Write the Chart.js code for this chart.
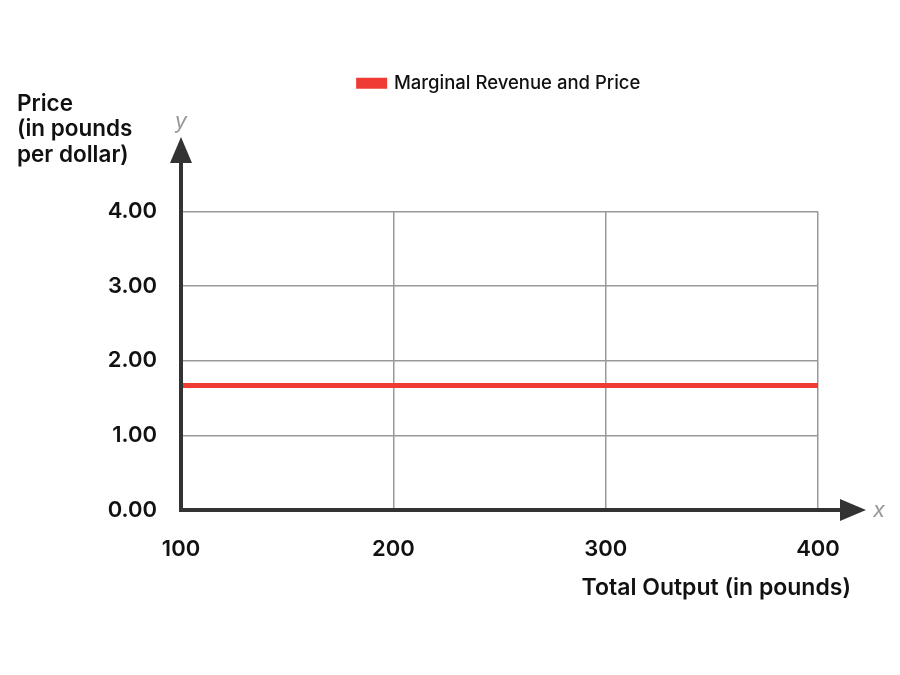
<!DOCTYPE html>
<html>
<head>
<meta charset="utf-8">
<script src="https://cdn.jsdelivr.net/npm/chart.js@4"></script>
<style>
  html, body { margin: 0; padding: 0; background: #fff; }
  #wrap { width: 900px; height: 675px; }
</style>
</head>
<body>
<div id="wrap"><canvas id="chart" width="900" height="675"></canvas></div>
<script>
// Data
const outputs = [100, 400];
const prices = [1.67, 1.67];
const seriesLabel = 'Marginal Revenue and Price';
const xTicks = [100, 200, 300, 400];
const yTicks = [0, 1, 2, 3, 4];
const yTitle = ['Price', '(in pounds', 'per dollar)'];
const xTitle = 'Total Output (in pounds)';

const FONT = 'Inter, "Open Sans", sans-serif';
const AXIS = '#333333';

// Lift the legend above the plot and center it over the chart area
const legendShift = {
  id: 'legendShift',
  afterUpdate(chart) {
    const lg = chart.legend;
    if (!lg) return;
    const area = chart.chartArea;
    const dx = (area.left + area.right) / 2 - (lg.left + lg.right) / 2;
    lg.left += dx;
    lg.right += dx;
    lg.top -= 109;
    lg.bottom -= 109;
    lg.adjustHitBoxes();
  }
};

// Draw the heavy axes with arrows, axis names and titles
const axesPlugin = {
  id: 'axes',
  afterDatasetsDraw(chart) {
    const { ctx, chartArea } = chart;
    const x0 = chartArea.left, y0 = chartArea.bottom;
    ctx.save();
    ctx.strokeStyle = AXIS;
    ctx.fillStyle = AXIS;
    ctx.lineWidth = 4;
    ctx.lineCap = 'butt';

    // y axis
    ctx.beginPath();
    ctx.moveTo(x0, y0 + 2);
    ctx.lineTo(x0, 158);
    ctx.stroke();
    ctx.beginPath();
    ctx.moveTo(x0, 137);
    ctx.lineTo(x0 - 11, 163);
    ctx.lineTo(x0 + 11, 163);
    ctx.closePath();
    ctx.fill();

    // x axis
    ctx.beginPath();
    ctx.moveTo(x0 - 2, y0);
    ctx.lineTo(845, y0);
    ctx.stroke();
    ctx.beginPath();
    ctx.moveTo(866, y0);
    ctx.lineTo(840, y0 - 11);
    ctx.lineTo(840, y0 + 11);
    ctx.closePath();
    ctx.fill();

    // axis letters
    ctx.fillStyle = '#999999';
    ctx.font = 'italic 22px ' + FONT;
    ctx.textAlign = 'center';
    ctx.textBaseline = 'middle';
    ctx.fillText('y', x0, 121);
    ctx.fillText('x', 879, y0);

    // titles
    ctx.fillStyle = '#111111';
    ctx.font = '600 22.5px ' + FONT;
    ctx.textAlign = 'left';
    ctx.textBaseline = 'middle';
    yTitle.forEach((t, i) => ctx.fillText(t, 17, 104 + i * 25.5));
    ctx.font = '600 23px ' + FONT;
    ctx.textAlign = 'right';
    ctx.fillText(xTitle, 851, 588);
    ctx.restore();
  }
};

const ctx = document.getElementById('chart').getContext('2d');
new Chart(ctx, {
  type: 'line',
  data: {
    datasets: [{
      label: seriesLabel,
      data: outputs.map((x, i) => ({ x, y: prices[i] })),
      borderColor: '#ef3b33',
      backgroundColor: '#ef3b33',
      borderWidth: 5,
      pointRadius: 0,
      fill: false
    }]
  },
  options: {
    responsive: false,
    animation: false,
    layout: { padding: { left: 100, right: 82, top: 173, bottom: 0 } },
    scales: {
      x: {
        type: 'linear',
        min: 100,
        max: 400,
        afterBuildTicks: s => { s.ticks = xTicks.map(v => ({ value: v })); },
        afterFit: s => { s.height = 675 - 510; },
        grid: { color: '#999999', lineWidth: 1.5, drawTicks: false },
        border: { display: false },
        ticks: {
          padding: 26,
          color: '#111111',
          font: { family: FONT, size: 22, weight: '600' },
          callback: v => String(v)
        }
      },
      y: {
        min: 0,
        max: 4,
        afterBuildTicks: s => { s.ticks = yTicks.map(v => ({ value: v })); },
        afterFit: s => { s.width = 181 - 100; },
        grid: { color: '#999999', lineWidth: 1.5, drawTicks: false },
        border: { display: false },
        ticks: {
          padding: 24,
          color: '#111111',
          font: { family: FONT, size: 22, weight: '600' },
          callback: v => v.toFixed(2)
        }
      }
    },
    plugins: {
      legend: {
        position: 'top',
        labels: {
          boxWidth: 26,
          boxHeight: 6,
          padding: 10,
          color: '#111111',
          font: { family: FONT, size: 18.5, weight: '500' }
        }
      },
      tooltip: { enabled: false }
    }
  },
  plugins: [legendShift, axesPlugin]
});
</script>
</body>
</html>
